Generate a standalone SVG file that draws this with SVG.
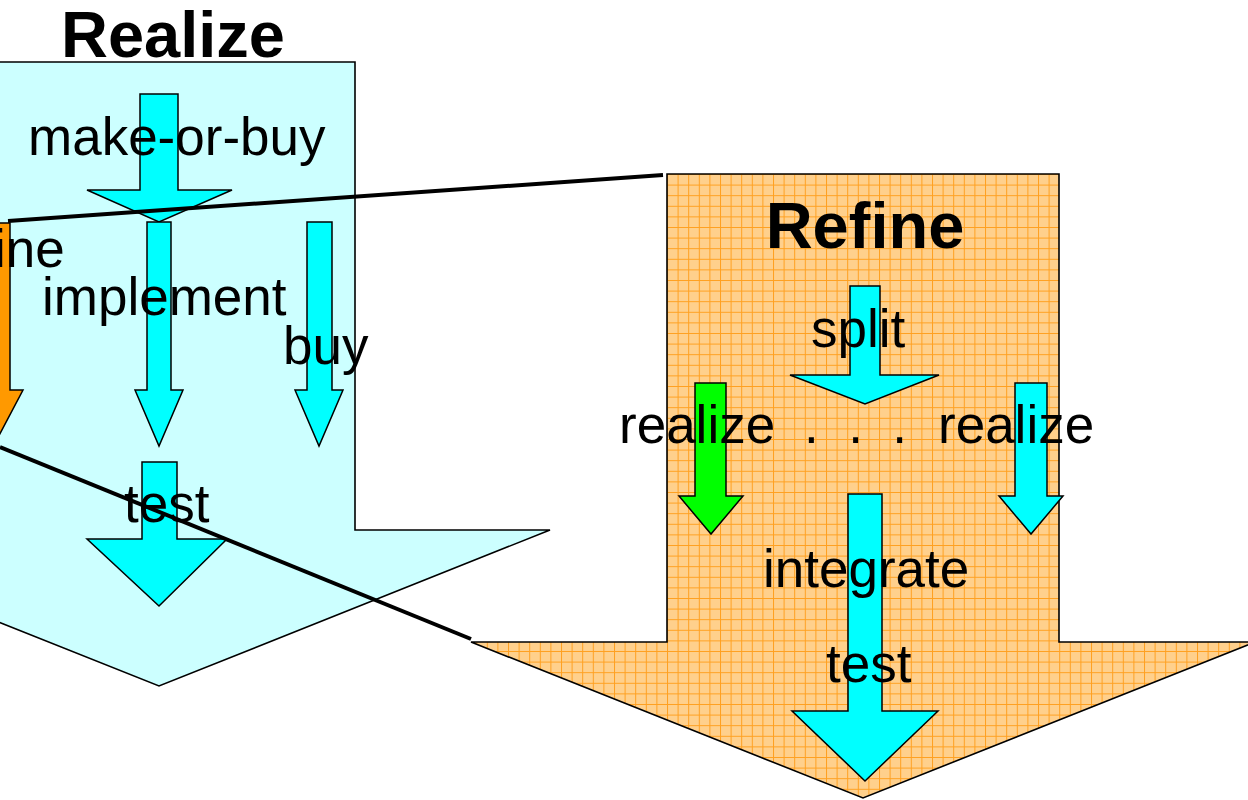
<svg xmlns="http://www.w3.org/2000/svg" width="1248" height="800" viewBox="0 0 1248 800">
<defs>
<pattern id="grid" patternUnits="userSpaceOnUse" x="667" y="174" width="10.6" height="10.6">
<rect width="10.6" height="10.6" fill="#FFD08C"/>
<path d="M0 0.5H10.6M0.5 0V10.6" stroke="#FFA020" stroke-width="1" fill="none"/>
</pattern>
</defs>
<style>
.big{stroke:#000;stroke-width:1.6;stroke-linejoin:miter}
.arr{fill:#00FFFF;stroke:#000;stroke-width:1.5}
.t{font-family:"Liberation Sans",Arial,sans-serif;font-size:53px;fill:#000}
.h{font-family:"Liberation Sans",Arial,sans-serif;font-size:65px;font-weight:bold;fill:#000}
.ln{stroke:#000;stroke-width:4;fill:none}
</style>
<rect width="1248" height="800" fill="#fff"/>
<g id="realize">
<polygon class="big" fill="#CCFFFF" points="-37,62 355,62 355,530 550,530 159,686 -232,530 -37,530"/>
<path class="arr" d="M140,94H178V190H232L159,222L87,190H140Z"/>
<path class="arr" d="M147,222H171V390H183L159,446L135,390H147Z"/>
<path class="arr" d="M307,222H332V390H343L319,446L295,390H307Z"/>
<path class="arr" d="M142,462H177V539H227L159,606L87,539H142Z"/>
<path fill="#FF9900" stroke="#000" stroke-width="1.5" d="M-20,223H10V390H23L-5,443L-33,390H-20Z"/>
<text class="h" x="173" y="57" text-anchor="middle">Realize</text>
<text class="t" x="28" y="155">make-or-buy</text>
<text class="t" x="-6" y="267">ine</text>
<text class="t" x="42" y="315">implement</text>
<text class="t" x="283" y="364">buy</text>
<text class="t" x="124" y="522">test</text>
</g>
<g id="refine">
<polygon class="big" fill="url(#grid)" points="667,174 1059,174 1059,642 1255,642 863,798 471,642 667,642"/>
<path class="arr" d="M850,286H880V375H939L865,404L790,375H850Z"/>
<path class="arr" fill="#00FF00" style="fill:#00FF00" d="M695,383H726V496H743L711,534L679,496H695Z"/>
<path class="arr" d="M1015,383H1047V496H1063L1031,534L999,496H1015Z"/>
<path class="arr" d="M848,494H882V711H938L865,781L792,711H848Z"/>
<text class="h" x="865" y="248" text-anchor="middle">Refine</text>
<text class="t" x="811" y="347">split</text>
<text class="t" x="619" y="443">realize</text>
<text class="t" x="804" y="443" xml:space="preserve" style="white-space:pre">.  .  .</text>
<text class="t" x="938" y="443">realize</text>
<text class="t" x="763" y="587">integrate</text>
<text class="t" x="826" y="682">test</text>
</g>
<g id="connectors">
<line class="ln" x1="8" y1="221" x2="663" y2="175"/>
<line class="ln" x1="0" y1="447" x2="471" y2="639"/>
</g>
</svg>
